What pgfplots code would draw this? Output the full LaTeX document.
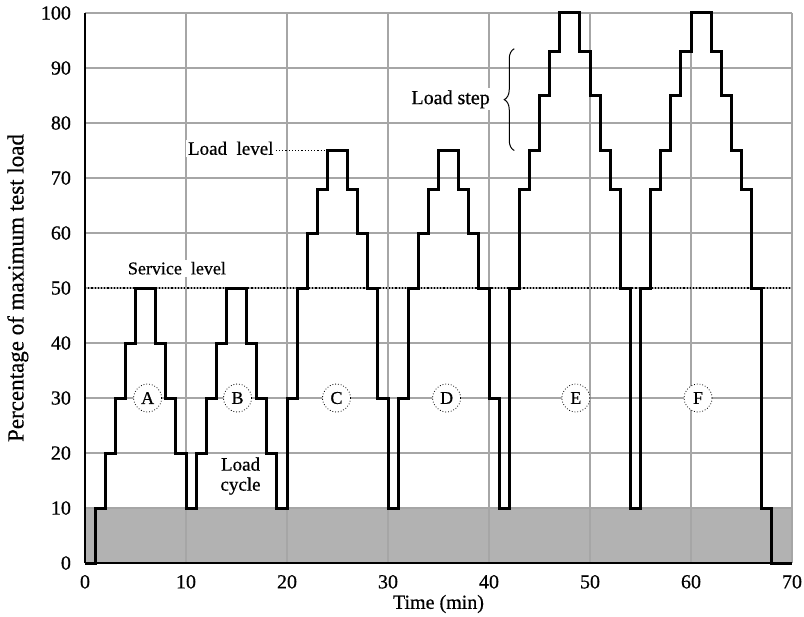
\documentclass[border=0pt]{standalone}
\usepackage{pgfplots}
\pgfplotsset{compat=1.18}
\usepackage{fontspec}
\setmainfont{Liberation Serif}[FakeBold=0.6]
\usetikzlibrary{decorations.pathreplacing}
\begin{document}
\begin{tikzpicture}
\begin{axis}[
  name=ax,
  set layers,
  width=353.5pt, height=275pt, scale only axis,
  xmin=0, xmax=70, ymin=0, ymax=100,
  xtick={0,10,...,70}, ytick={0,10,...,100},
  axis x line*=bottom, axis y line*=left,
  axis line style={-, black, line width=0.9pt},
  major tick length=0pt,
  grid=major,
  grid style={gray!70, line width=0.7pt},
  /pgf/number format/assume math mode=true,
  ticklabel style={font=\fontsize{10}{12}\selectfont},
  yticklabel style={xshift=-3.5pt},
  xticklabel style={yshift=-2.5pt},
  xlabel={Time (min)},
  ylabel={Percentage of maximum test load},
  every axis x label/.style={at={(axis description cs:0.5,0)}, anchor=center, yshift=-20.5pt, font=\fontsize{10}{12}\selectfont},
  every axis y label/.style={at={(axis description cs:-0.095,0.5)}, anchor=center, rotate=90, font=\fontsize{11.5}{13}\selectfont},
  clip=false,
]
\addplot[on layer=axis background, fill=gray!60, draw=none] coordinates {(0,10) (70,10)} \closedcycle;
\addplot[black, densely dotted, line width=0.6pt] coordinates {(0,50) (70,50)};
\addplot[black, densely dotted, line width=0.6pt] coordinates {(18.9,75) (24,75)};
\addplot[black, line width=1.5pt, const plot] coordinates {
(0,0) (1,10) (2,20) (3,30) (4,40) (5,50) (7,40) (8,30) (9,20) (10,10)
(11,20) (12,30) (13,40) (14,50) (16,40) (17,30) (18,20) (19,10)
(20,30) (21,50) (22,60) (23,68) (24,75) (26,68) (27,60) (28,50) (29,30) (30,10)
(31,30) (32,50) (33,60) (34,68) (35,75) (37,68) (38,60) (39,50) (40,30) (41,10)
(42,50) (43,68) (44,75) (45,85) (46,93) (47,100) (49,93) (50,85) (51,75) (52,68) (53,50) (54,10)
(55,50) (56,68) (57,75) (58,85) (59,93) (60,100) (62,93) (63,85) (64,75) (65,68) (66,50) (67,10)
(68,0) (70,0)};
\node[fill=white, inner sep=1pt, font=\fontsize{9}{11}\selectfont] at (axis cs:9.1,53.6) {Service\hspace{0.5em}level};
\node[fill=white, inner sep=1pt, anchor=east, font=\fontsize{9.5}{11}\selectfont] at (axis cs:18.9,75.4) {Load\hspace{0.5em}level};
\node[fill=white, inner sep=1pt, font=\fontsize{10}{12}\selectfont] at (axis cs:36.2,84.3) {Load step};
\node[align=center, inner sep=1pt, font=\fontsize{9.5}{11}\selectfont] at (axis cs:15.4,15.8) {Load\\[-1pt]cycle};
\draw[decorate, decoration={brace, amplitude=5pt}, line width=0.5pt] (axis cs:42.5,75) -- (axis cs:42.5,93.5);
\begin{scope}[every node/.style={circle, draw, densely dotted, fill=white, inner sep=0pt, minimum size=14pt, font=\fontsize{9}{10}\selectfont}]
\node at (axis cs:6.2,30) {A};
\node at (axis cs:15.1,30) {B};
\node at (axis cs:24.9,30) {C};
\node at (axis cs:35.8,30) {D};
\node at (axis cs:48.6,30) {E};
\node at (axis cs:60.7,30) {F};
\end{scope}
\end{axis}
\pgfresetboundingbox
\path ([shift={(-42.5pt,-26.5pt)}]ax.south west) rectangle ([shift={(6pt,6.5pt)}]ax.north east);
\end{tikzpicture}
\end{document}
